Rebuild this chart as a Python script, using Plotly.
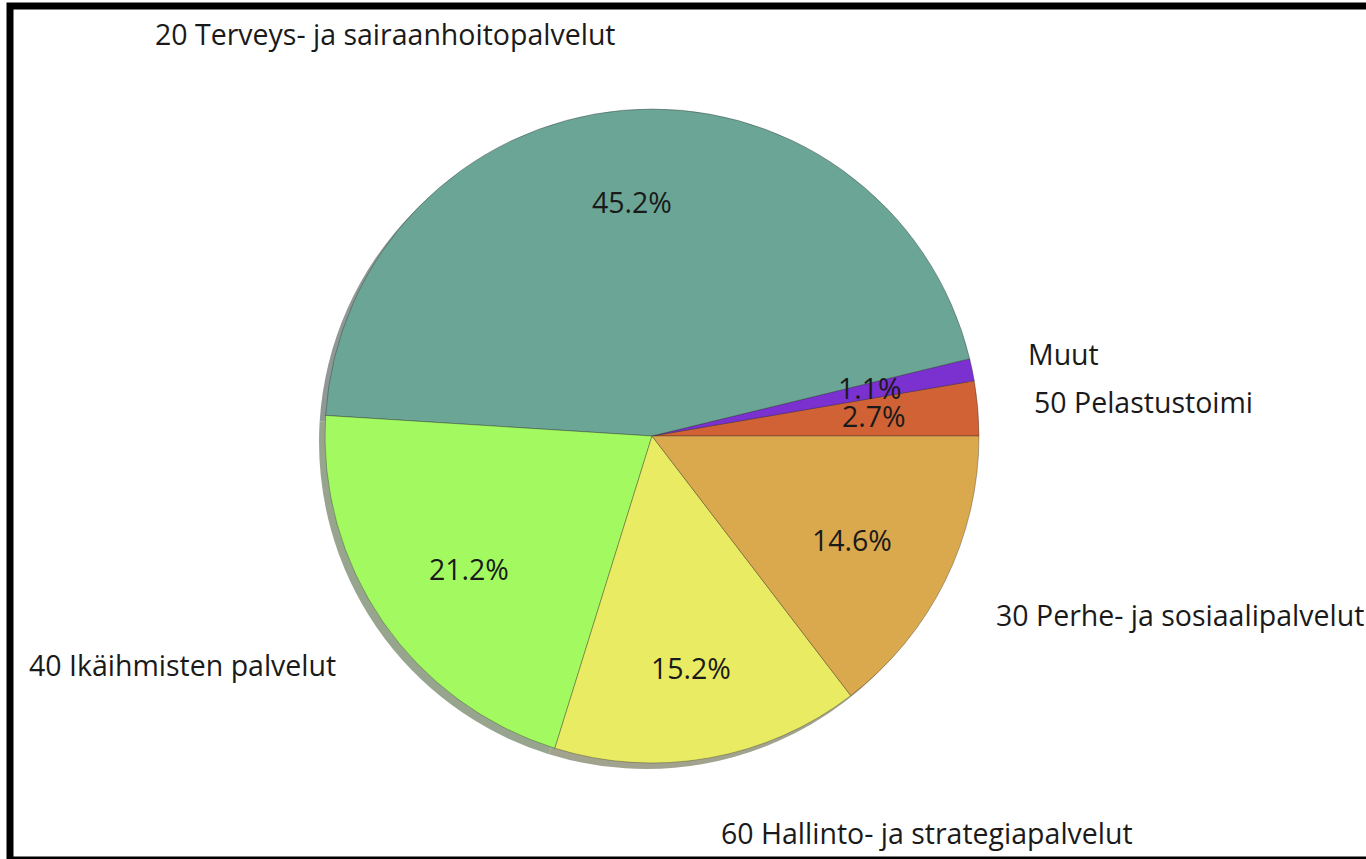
import math
import plotly.graph_objects as go

# ---- data (matplotlib order: counter-clockwise from 3 o'clock) ----
labels = [
    "50 Pelastustoimi",
    "Muut",
    "20 Terveys- ja sairaanhoitopalvelut",
    "40 Ikäihmisten palvelut",
    "60 Hallinto- ja strategiapalvelut",
    "30 Perhe- ja sosiaalipalvelut",
]
shares = [2.7, 1.1, 45.2, 21.2, 15.2, 14.6]
colors = ["#d06236", "#7b30d0", "#6ba595", "#a2fa60", "#e9ec62", "#dba94d"]

# ---- geometry (pixels) ----
W, H = 1366, 859
CX, CY = 652, 436          # pie centre
R = 327                    # drawn radius
RX, RY = 318, 336          # reference text geometry
LABEL_DIST, PCT_DIST = 1.2, 0.7
SHADOW_DX, SHADOW_DY = -6, 6
FONT = dict(family="Open Sans, Noto Sans, sans-serif", size=28.5, color="#1a1a1a")

total = sum(shares)
# plotly places the first slice clockwise of `rotation` when counter-clockwise,
# so shift the rotation so that the first slice starts at 3 o'clock
ROTATION = 90 - 360 * shares[0] / total


def shadow_color(hexc):
    r, g, b = (int(hexc[i:i + 2], 16) for i in (1, 3, 5))
    f = lambda c: round(0.5 * 255 + 0.15 * c)
    return f"rgb({f(r)},{f(g)},{f(b)})"


def domain(cx, cy, r):
    return dict(x=[(cx - r) / W, (cx + r) / W],
                y=[1 - (cy + r) / H, 1 - (cy - r) / H])


fig = go.Figure()
fig.add_trace(go.Pie(
    labels=labels, values=shares, sort=False, direction="counterclockwise",
    rotation=ROTATION, textinfo="none", hoverinfo="skip", showlegend=False,
    marker=dict(colors=[shadow_color(c) for c in colors], line=dict(width=0)),
    domain=domain(CX + SHADOW_DX, CY + SHADOW_DY, R),
))
fig.add_trace(go.Pie(
    labels=labels, values=shares, sort=False, direction="counterclockwise",
    rotation=ROTATION, textinfo="none", showlegend=False,
    marker=dict(colors=colors, line=dict(color="rgba(40,40,40,0.35)", width=1)),
    domain=domain(CX, CY, R),
))

cum = 0.0
annotations = []
for lab, v in zip(labels, shares):
    mid = 2 * math.pi * (cum + v / 2) / total
    cum += v
    c, s = math.cos(mid), math.sin(mid)
    lx = CX + LABEL_DIST * RX * c
    ly = CY - LABEL_DIST * RY * s
    annotations.append(dict(
        x=lx / W, y=1 - ly / H, xref="paper", yref="paper", text=lab,
        showarrow=False, xanchor="left" if c > 0 else "right", yanchor="middle",
        font=FONT,
    ))
    px = CX + PCT_DIST * RX * c
    py = CY - PCT_DIST * RY * s
    annotations.append(dict(
        x=px / W, y=1 - py / H, xref="paper", yref="paper",
        text=f"{100 * v / total:.1f}%", showarrow=False,
        xanchor="center", yanchor="middle", font=FONT,
    ))

fig.update_layout(
    width=W, height=H, margin=dict(l=0, r=0, t=0, b=0),
    paper_bgcolor="white", plot_bgcolor="white",
    annotations=annotations,
    shapes=[dict(type="rect", xref="paper", yref="paper",
                 x0=10 / W, x1=1380 / W, y0=1 - 860 / H, y1=1 - 6 / H,
                 line=dict(color="black", width=7), fillcolor="rgba(0,0,0,0)")],
)
fig.write_html("out.html", config={"displayModeBar": False},
               post_script="document.body.style.margin='0';document.body.style.overflow='hidden';")
